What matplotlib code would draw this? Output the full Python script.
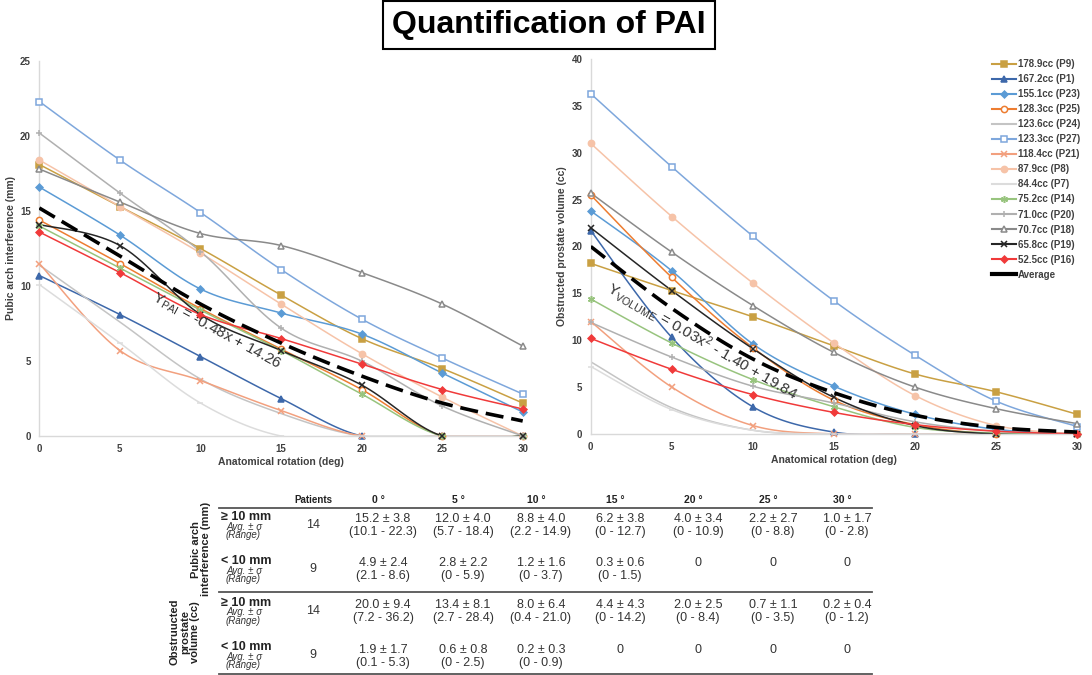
import numpy as np
import matplotlib
matplotlib.use('Agg')
import matplotlib.pyplot as plt
from matplotlib.lines import Line2D

plt.rcParams['font.family'] = ['Liberation Sans', 'DejaVu Sans']

angles = [0, 5, 10, 15, 20, 25, 30]

# patients (legend order)
patients = ['178.9cc (P9)', '167.2cc (P1)', '155.1cc (P23)', '128.3cc (P25)',
            '123.6cc (P24)', '123.3cc (P27)', '118.4cc (P21)', '87.9cc (P8)',
            '84.4cc (P7)', '75.2cc (P14)', '71.0cc (P20)', '70.7cc (P18)',
            '65.8cc (P19)', '52.5cc (P16)']

# pubic arch interference (mm)
pai_p9 = [18.1, 15.3, 12.5, 9.4, 6.5, 4.5, 2.2]
pai_p1 = [10.7, 8.1, 5.3, 2.5, 0, 0, 0]
pai_p23 = [16.6, 13.4, 9.8, 8.2, 6.8, 4.2, 1.6]
pai_p25 = [14.4, 11.5, 8.5, 5.8, 3.1, 0, 0]
pai_p24 = [11.4, 7.6, 3.8, 1.5, 0, 0, 0]
pai_p27 = [22.3, 18.4, 14.9, 11.1, 7.8, 5.2, 2.8]
pai_p21 = [11.5, 5.7, 3.7, 1.7, 0, 0, 0]
pai_p8 = [18.4, 15.3, 12.2, 8.8, 5.5, 2.6, 0]
pai_p7 = [10.1, 6.2, 2.2, 0, 0, 0, 0]
pai_p14 = [14.0, 11.2, 8.4, 5.7, 2.8, 0, 0]
pai_p20 = [20.2, 16.2, 12.3, 7.2, 5.0, 2.0, 0]
pai_p18 = [17.8, 15.6, 13.5, 12.7, 10.9, 8.8, 6.0]
pai_p19 = [14.1, 12.7, 8.1, 5.7, 3.4, 0, 0]
pai_p16 = [13.6, 10.9, 8.1, 6.5, 4.8, 3.1, 1.8]
pai_avg = [15.2, 12.0, 8.8, 6.2, 4.0, 2.2, 1.0]

# obstructed prostate volume (cc)
vol_p9 = [18.2, 15.3, 12.5, 9.4, 6.4, 4.5, 2.1]
vol_p1 = [21.7, 10.3, 2.9, 0.2, 0, 0, 0]
vol_p23 = [23.8, 17.4, 9.6, 5.1, 2.1, 0.5, 0]
vol_p25 = [25.5, 16.7, 9.2, 3.6, 1.0, 0, 0]
vol_p24 = [7.7, 2.8, 0.4, 0, 0, 0, 0]
vol_p27 = [36.3, 28.5, 21.1, 14.2, 8.4, 3.5, 0.8]
vol_p21 = [12.0, 5.0, 0.9, 0, 0, 0, 0]
vol_p8 = [31.0, 23.2, 16.1, 9.7, 4.1, 0.9, 0]
vol_p7 = [7.2, 2.6, 0.4, 0, 0, 0, 0]
vol_p14 = [14.4, 9.7, 5.8, 2.9, 0.7, 0.1, 0]
vol_p20 = [11.9, 8.2, 5.1, 3.3, 1.3, 0.3, 0]
vol_p18 = [25.7, 19.4, 13.7, 8.7, 5.0, 2.7, 1.1]
vol_p19 = [22.0, 15.3, 9.1, 3.9, 0.9, 0, 0]
vol_p16 = [10.2, 6.9, 4.2, 2.3, 1.0, 0.3, 0]
vol_avg = [20.0, 13.4, 8.0, 4.4, 2.0, 0.7, 0.2]

pai_series = [pai_p9, pai_p1, pai_p23, pai_p25, pai_p24, pai_p27, pai_p21,
              pai_p8, pai_p7, pai_p14, pai_p20, pai_p18, pai_p19, pai_p16]
vol_series = [vol_p9, vol_p1, vol_p23, vol_p25, vol_p24, vol_p27, vol_p21,
              vol_p8, vol_p7, vol_p14, vol_p20, vol_p18, vol_p19, vol_p16]

# table
table_cols = ['0 °', '5 °', '10 °', '15 °', '20 °', '25 °', '30 °']
pai_hi_mean = ['15.2 ± 3.8', '12.0 ± 4.0', '8.8 ± 4.0', '6.2 ± 3.8', '4.0 ± 3.4', '2.2 ± 2.7', '1.0 ± 1.7']
pai_hi_range = ['(10.1 - 22.3)', '(5.7 - 18.4)', '(2.2 - 14.9)', '(0 - 12.7)', '(0 - 10.9)', '(0 - 8.8)', '(0 - 2.8)']
pai_lo_mean = ['4.9 ± 2.4', '2.8 ± 2.2', '1.2 ± 1.6', '0.3 ± 0.6', '0', '0', '0']
pai_lo_range = ['(2.1 - 8.6)', '(0 - 5.9)', '(0 - 3.7)', '(0 - 1.5)', '', '', '']
vol_hi_mean = ['20.0 ± 9.4', '13.4 ± 8.1', '8.0 ± 6.4', '4.4 ± 4.3', '2.0 ± 2.5', '0.7 ± 1.1', '0.2 ± 0.4']
vol_hi_range = ['(7.2 - 36.2)', '(2.7 - 28.4)', '(0.4 - 21.0)', '(0 - 14.2)', '(0 - 8.4)', '(0 - 3.5)', '(0 - 1.2)']
vol_lo_mean = ['1.9 ± 1.7', '0.6 ± 0.8', '0.2 ± 0.3', '0', '0', '0', '0']
vol_lo_range = ['(0.1 - 5.3)', '(0 - 2.5)', '(0 - 0.9)', '', '', '', '']
n_patients = ['14', '9', '14', '9']

# styles: color, marker, marker face
styles = [
    ('#c9a043', 's', None),
    ('#3d68aa', '^', None),
    ('#5b9bd5', 'D', None),
    ('#ed7d31', 'o', 'white'),
    ('#c4c4c4', None, None),
    ('#7ea7dc', 's', 'white'),
    ('#f2a07e', 'x', None),
    ('#f6c3a8', 'o', None),
    ('#dcdcdc', '_', None),
    ('#98c47e', (6, 2, 0), None),
    ('#b0b0b0', '+', None),
    ('#8a8a8a', '^', 'white'),
    ('#262626', 'x', None),
    ('#f03a3a', 'D', None),
]
msizes = {'s': 4.5, '^': 4.5, 'D': 3.5, 'o': 4.5, 'x': 5, '_': 5, '+': 5}

W, H = 1092, 675
TXT = '#404040'


def smooth(x, y, n=20):
    # Excel-like smoothed line (Catmull-Rom Bezier)
    x = np.asarray(x, float)
    y = np.asarray(y, float)
    pts = np.column_stack([x, y])
    out = [pts[0]]
    t = np.linspace(0, 1, n)[1:, None]
    for i in range(len(pts) - 1):
        p0 = pts[i - 1] if i > 0 else pts[i]
        p1 = pts[i]
        p2 = pts[i + 1]
        p3 = pts[i + 2] if i + 2 < len(pts) else pts[i + 1]
        c1 = p1 + (p2 - p0) / 6
        c2 = p2 - (p3 - p1) / 6
        seg = ((1 - t) ** 3) * p1 + 3 * ((1 - t) ** 2) * t * c1 + 3 * (1 - t) * t ** 2 * c2 + t ** 3 * p2
        out.extend(seg)
    out = np.array(out)
    return out[:, 0], out[:, 1]


def draw(ax, series, avg, ymax, ylabel):
    for vals, (c, m, mf) in zip(series, styles):
        sx, sy = smooth(angles, vals)
        ax.plot(sx, sy, color=c, lw=1.1, zorder=2)
        if m is not None:
            ms = msizes.get(m, 5) if isinstance(m, str) else 5
            ax.plot(angles, vals, ls='none', marker=m, ms=ms, color=c,
                    mfc=mf if mf else c, mew=1.1, clip_on=False, zorder=3)
    sx, sy = smooth(angles, avg)
    ax.plot(sx, sy, color='black', lw=2.6, ls=(0, (5, 2.2)), zorder=4)
    ax.set_xlim(0, 30)
    ax.set_ylim(0, ymax)
    ax.set_xticks(range(0, 31, 5))
    ax.set_yticks(range(0, ymax + 1, 5))
    for s in ['top', 'right']:
        ax.spines[s].set_visible(False)
    for s in ['left', 'bottom']:
        ax.spines[s].set_color('#d9d9d9')
        ax.spines[s].set_linewidth(1)
    ax.tick_params(length=0, labelsize=7, labelcolor=TXT, pad=6)
    for lab in ax.get_xticklabels() + ax.get_yticklabels():
        lab.set_fontweight('bold')
    ax.set_xlabel('Anatomical rotation (deg)', fontsize=7.5, fontweight='bold', color=TXT, labelpad=2)
    ax.set_ylabel(ylabel, fontsize=7.5, fontweight='bold', color=TXT, labelpad=3)


fig = plt.figure(figsize=(W / 100, H / 100), dpi=100)
ax1 = fig.add_axes([39.3 / W, 1 - 436 / H, 483.4 / W, 375 / H])
ax2 = fig.add_axes([590.7 / W, 1 - 434 / H, 486.6 / W, 375 / H])

draw(ax1, pai_series, pai_avg, 25, 'Pubic arch interference (mm)')
draw(ax2, vol_series, vol_avg, 40, 'Obstructed prostate volume (cc)')

ax1.text(11.0, 7.0, r'$\mathregular{Y_{PAI}}$ = -0.48x + 14.26', fontsize=11, color='#333333',
         rotation=-28.5, ha='center', va='center', rotation_mode='anchor', zorder=5)
ax2.text(6.9, 9.9, r'$\mathregular{Y_{VOLUME}}$ = 0.03x$\mathregular{^2}$ - 1.40 + 19.84', fontsize=11,
         color='#333333', rotation=-30, ha='center', va='center', rotation_mode='anchor', zorder=5)

# legend
handles = []
for c, m, mf in styles:
    if m is None:
        handles.append(Line2D([], [], color=c, lw=1.5))
    else:
        ms = msizes.get(m, 5) if isinstance(m, str) else 5
        handles.append(Line2D([], [], color=c, lw=1.5, marker=m, ms=ms, mfc=mf if mf else c, mew=1.1))
handles.append(Line2D([], [], color='black', lw=3))
fig.legend(handles, patients + ['Average'], loc='upper left', bbox_to_anchor=(992 / W, 1 - 59 / H),
           frameon=False, prop={'weight': 'bold', 'size': 7}, labelcolor=TXT,
           handlelength=2.5, handletextpad=0.15, labelspacing=0.52, borderpad=0, borderaxespad=0)

# title
fig.text(549 / W, 1 - 25 / H, 'Quantification of PAI', fontsize=23, fontweight='bold',
         ha='center', va='center', color='black',
         bbox=dict(boxstyle='square,pad=0.28', facecolor='white', edgecolor='black', linewidth=1.5))

# table
def fx(px):
    return px / W


def fy(py):
    return 1 - py / H


col_x = [383, 463, 541, 620, 698, 773, 847]
for cx, name in zip(col_x, table_cols):
    fig.text(fx(cx - 5), fy(500), name, fontsize=7.5, fontweight='bold', ha='center', va='center', color='#222222')
fig.text(fx(313), fy(500), 'Patients', fontsize=7, fontweight='bold', ha='center', va='center', color='#222222')

for yl in [507.5, 591.5, 674]:
    fig.add_artist(Line2D([fx(219), fx(872)], [fy(yl), fy(yl)], color='#555555', lw=1.3))

rows = [(517, '≥ 10 mm', pai_hi_mean, pai_hi_range),
        (561, '< 10 mm', pai_lo_mean, pai_lo_range),
        (602.5, '≥ 10 mm', vol_hi_mean, vol_hi_range),
        (647.5, '< 10 mm', vol_lo_mean, vol_lo_range)]
for (ry, name, means, ranges), npat in zip(rows, n_patients):
    fig.text(fx(221), fy(ry), name, fontsize=9, fontweight='bold', ha='left', va='center', color='#222222')
    fig.text(fx(226), fy(ry + 9.5), 'Avg. ± σ', fontsize=7, style='italic', ha='left', va='center', color='#333333')
    fig.text(fx(226), fy(ry + 18), '(Range)', fontsize=7, style='italic', ha='left', va='center', color='#333333')
    fig.text(fx(313), fy(ry + 8), npat, fontsize=9, ha='center', va='center', color='#333333')
    for cx, mv, rv in zip(col_x, means, ranges):
        fig.text(fx(cx), fy(ry + 2.5), mv, fontsize=9, ha='center', va='center', color='#333333')
        if rv:
            fig.text(fx(cx), fy(ry + 15.5), rv, fontsize=9, ha='center', va='center', color='#333333')

fig.text(fx(201), fy(549), 'Pubic arch\ninterference (mm)', fontsize=8, fontweight='bold', rotation=90,
         ha='center', va='center', color='#222222', linespacing=1.0, multialignment='center')
fig.text(fx(185), fy(632), 'Obstruucted\nprostate\nvolume (cc)', fontsize=8, fontweight='bold', rotation=90,
         ha='center', va='center', color='#222222', linespacing=1.0, multialignment='center')

fig.savefig('out.png', dpi=100, facecolor='white')
